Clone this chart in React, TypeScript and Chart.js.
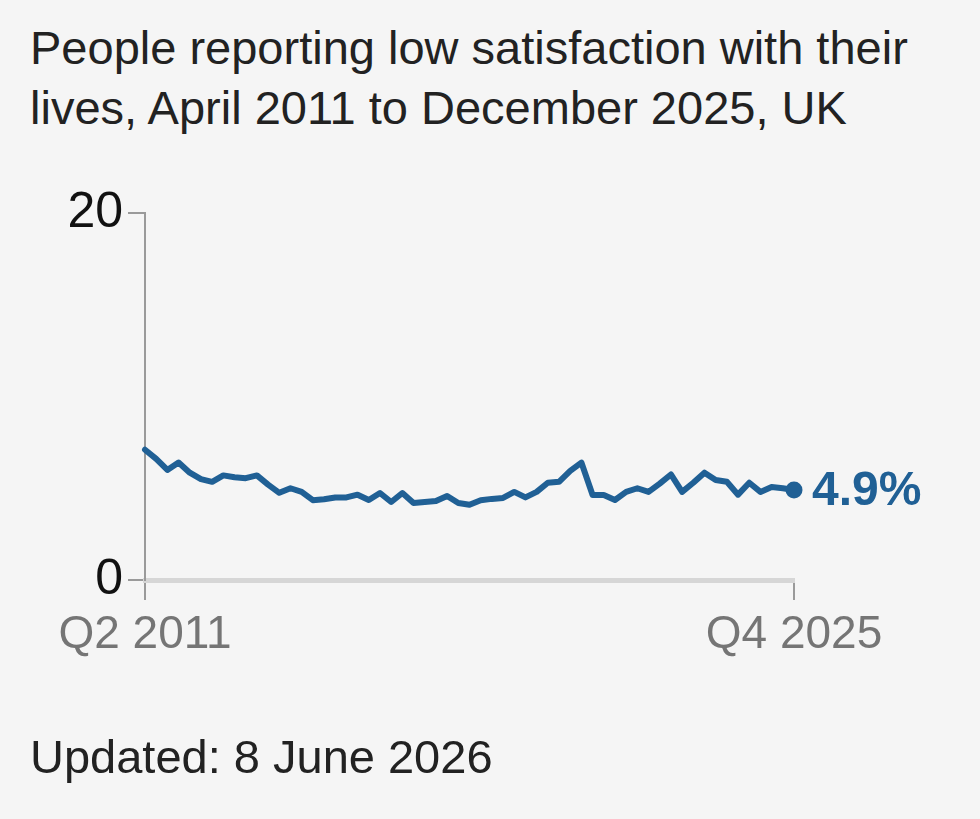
import React, { useEffect, useRef } from "react";
import { Chart, registerables } from "chart.js";

Chart.register(...registerables);

const titleLines = [
  "People reporting low satisfaction with their",
  "lives, April 2011 to December 2025, UK",
];
const footerText = "Updated: 8 June 2026";

const startYear = 2011;
const startQuarter = 2;
const quarters: string[] = [];
for (let y = startYear, q = startQuarter; y < 2025 || (y === 2025 && q <= 4); ) {
  quarters.push(`Q${q} ${y}`);
  q++;
  if (q > 4) {
    q = 1;
    y++;
  }
}

const lowSatisfaction = [
  7.1, 6.6, 6.0, 6.4, 5.85, 5.5, 5.35, 5.7, 5.6, 5.55,
  5.7, 5.2, 4.75, 5.0, 4.8, 4.35, 4.4, 4.5, 4.5, 4.65,
  4.36, 4.74, 4.25, 4.74, 4.2, 4.25, 4.3, 4.58, 4.2, 4.1,
  4.35, 4.42, 4.47, 4.8, 4.5, 4.8, 5.3, 5.35, 5.95, 6.4,
  4.63, 4.63, 4.36, 4.8, 5.0, 4.8, 5.25, 5.75, 4.8, 5.3,
  5.85, 5.45, 5.35, 4.65, 5.3, 4.8, 5.07, 5.0, 4.9,
];

const yTicks = [0, 20];

const FONT = '"Liberation Sans", Arial, sans-serif';
const BLUE = "#206095";

export default function App() {
  const canvasRef = useRef<HTMLCanvasElement | null>(null);

  useEffect(() => {
    const canvas = canvasRef.current;
    if (!canvas) return;
    const last = lowSatisfaction.length - 1;

    const endLabel = {
      id: "endLabel",
      afterDatasetsDraw(chart: any) {
        const meta = chart.getDatasetMeta(0);
        const pt = meta.data[last];
        if (!pt) return;
        const ctx = chart.ctx;
        ctx.save();
        ctx.font = `bold 48px ${FONT}`;
        ctx.fillStyle = BLUE;
        ctx.textAlign = "left";
        ctx.textBaseline = "middle";
        ctx.fillText(`${lowSatisfaction[last].toFixed(1)}%`, pt.x + 18, pt.y + 2);
        ctx.restore();
      },
    };

    const chart = new Chart(canvas, {
      type: "line",
      data: {
        labels: quarters,
        datasets: [
          {
            data: lowSatisfaction,
            borderColor: BLUE,
            backgroundColor: BLUE,
            borderWidth: 6,
            borderJoinStyle: "round",
            borderCapStyle: "round",
            tension: 0,
            clip: false as any,
            pointRadius: (c: any) => (c.dataIndex === last ? 8.5 : 0),
            pointHoverRadius: 0,
            pointBorderWidth: 0,
            pointBackgroundColor: BLUE,
          },
        ],
      },
      options: {
        responsive: false,
        animation: false,
        events: [],
        layout: { padding: { top: 213, right: 186, bottom: 159, left: 0 } },
        plugins: {
          legend: { display: false },
          tooltip: { enabled: false },
          title: { display: false },
        },
        scales: {
          x: {
            type: "category",
            offset: false,
            grid: {
              display: true,
              drawOnChartArea: false,
              drawTicks: true,
              tickLength: 20,
              lineWidth: 2,
              color: (c: any) =>
                c.index === 0 || c.index === last ? "#9a9a9a" : "rgba(0,0,0,0)",
            },
            border: { display: true, color: "#d6d6d6", width: 5 },
            ticks: {
              autoSkip: false,
              maxRotation: 0,
              minRotation: 0,
              padding: 8,
              color: "#757575",
              font: { family: FONT, size: 46 },
              callback: (_v: any, i: number) =>
                i === 0 || i === last ? quarters[i] : "",
            },
            afterFit: (s: any) => {
              s.height = 80;
            },
          },
          y: {
            min: 0,
            max: 20,
            grid: {
              display: true,
              drawOnChartArea: false,
              drawTicks: true,
              tickLength: 17,
              lineWidth: 2,
              color: "#9a9a9a",
            },
            border: { display: true, color: "#9a9a9a", width: 2 },
            afterBuildTicks: (s: any) => {
              s.ticks = yTicks.map((v) => ({ value: v }));
            },
            ticks: {
              padding: 5,
              color: "#111111",
              font: { family: FONT, size: 50 },
            },
            afterFit: (s: any) => {
              s.width = 145;
            },
          },
        },
      },
      plugins: [endLabel],
    });

    return () => chart.destroy();
  }, []);

  return (
    <div
      style={{
        position: "fixed",
        left: 0,
        top: 0,
        width: 980,
        height: 819,
        background: "#f5f5f5",
        overflow: "hidden",
      }}
    >
      <div
        style={{
          position: "absolute",
          left: 30,
          top: 18,
          fontFamily: FONT,
          fontSize: 47,
          lineHeight: "60px",
          color: "#222222",
          whiteSpace: "nowrap",
        }}
      >
        {titleLines.map((t, i) => (
          <div key={i}>{t}</div>
        ))}
      </div>
      <canvas
        ref={canvasRef}
        width={980}
        height={819}
        style={{ position: "absolute", left: 0, top: 0, width: 980, height: 819 }}
      />
      <div
        style={{
          position: "absolute",
          left: 30,
          top: 729,
          fontFamily: FONT,
          fontSize: 47,
          lineHeight: "55px",
          color: "#222222",
          whiteSpace: "nowrap",
        }}
      >
        {footerText}
      </div>
    </div>
  );
}
